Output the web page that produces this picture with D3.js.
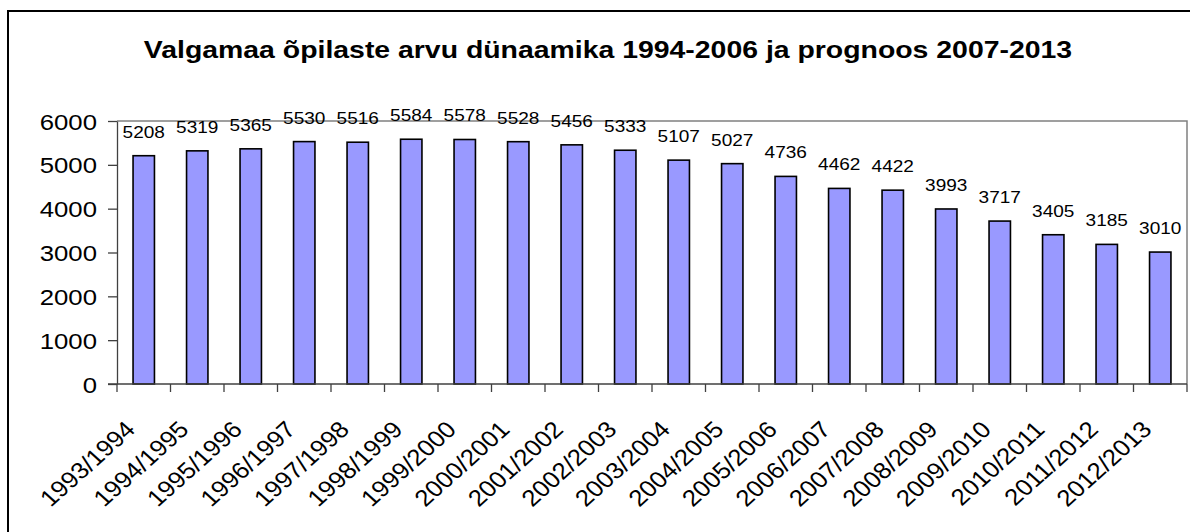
<!DOCTYPE html>
<html>
<head>
<meta charset="utf-8">
<script src="https://cdn.jsdelivr.net/npm/d3@7"></script>
<style>
  body { margin: 0; background: #fff; }
  text { font-family: "Liberation Sans", Arial, sans-serif; fill: #000; }
</style>
</head>
<body>
<div id="chart"></div>
<script>
// õppeaastad
const categories = ['1993/1994', '1994/1995', '1995/1996', '1996/1997', '1997/1998',
  '1998/1999', '1999/2000', '2000/2001', '2001/2002', '2002/2003', '2003/2004',
  '2004/2005', '2005/2006', '2006/2007', '2007/2008', '2008/2009', '2009/2010',
  '2010/2011', '2011/2012', '2012/2013'];

// õpilaste arv
const values = [5208, 5319, 5365, 5530, 5516, 5584, 5578, 5528, 5456, 5333, 5107,
  5027, 4736, 4462, 4422, 3993, 3717, 3405, 3185, 3010];

const yTicks = [0, 1000, 2000, 3000, 4000, 5000, 6000];

const title = 'Valgamaa õpilaste arvu dünaamika 1994-2006 ja prognoos 2007-2013';

const W = 1190, H = 532;
const plot = { left: 117, right: 1187, top: 121, bottom: 384 };
const sx = 1.12; // pilt on horisontaalselt venitatud

const data = categories.map((c, i) => ({ category: c, value: values[i] }));

const svg = d3.select('#chart').append('svg')
  .attr('width', W)
  .attr('height', H);

// välimine raam
svg.append('rect')
  .attr('x', 8).attr('y', 11)
  .attr('width', 1220).attr('height', 600)
  .attr('fill', 'none')
  .attr('stroke', '#000')
  .attr('stroke-width', 2);

svg.append('text')
  .attr('transform', `translate(608,58) scale(1.16,1)`)
  .attr('text-anchor', 'middle')
  .attr('font-size', '24.5px')
  .attr('font-weight', 'bold')
  .text(title);

const x = d3.scaleBand()
  .domain(categories)
  .range([plot.left, plot.right])
  .padding(0);

const y = d3.scaleLinear()
  .domain([0, 6000])
  .range([plot.bottom, plot.top]);

// joonise ala ülemine ja parem serv
svg.append('path')
  .attr('d', `M${plot.left},${y(6000)}H${plot.right}V${plot.bottom}`)
  .attr('fill', 'none')
  .attr('stroke', '#808080')
  .attr('stroke-width', 1.5);

// tulbad
svg.selectAll('rect.bar')
  .data(data)
  .enter()
  .append('rect')
  .classed('bar', true)
  .attr('x', d => x(d.category) + x.bandwidth() * 0.3)
  .attr('y', d => y(d.value))
  .attr('width', x.bandwidth() * 0.4)
  .attr('height', d => y(0) - y(d.value))
  .attr('fill', '#9999FF')
  .attr('stroke', '#000')
  .attr('stroke-width', 1.6);

// väärtused tulpade kohal
svg.selectAll('text.value')
  .data(data)
  .enter()
  .append('text')
  .classed('value', true)
  .attr('transform', d => `translate(${x(d.category) + x.bandwidth() / 2},${y(d.value) - 18}) scale(${sx},1)`)
  .attr('text-anchor', 'middle')
  .attr('font-size', '17px')
  .text(d => d.value);

// y-telg
const yAxis = svg.append('g')
  .attr('transform', `translate(${plot.left},0)`)
  .call(d3.axisLeft(y).tickValues(yTicks).tickFormat(d3.format('d')).tickSize(9).tickSizeOuter(0));
yAxis.select('.domain').attr('stroke', '#404040').attr('stroke-width', 1.3);
yAxis.selectAll('.tick line').attr('stroke', '#404040').attr('stroke-width', 1.3);
yAxis.selectAll('.tick text')
  .attr('x', null).attr('dy', null)
  .attr('transform', `translate(-20,0) scale(${sx},1)`)
  .attr('dominant-baseline', 'central')
  .attr('font-size', '23px')
  .attr('font-family', null)
  .attr('fill', '#000');

// x-telg, jaotised kategooriate vahel
svg.append('line')
  .attr('x1', plot.left - 9).attr('x2', plot.right)
  .attr('y1', y(0)).attr('y2', y(0))
  .attr('stroke', '#404040').attr('stroke-width', 1.3);

const edges = categories.map(c => x(c)).concat([plot.right]);
svg.selectAll('line.xtick')
  .data(edges)
  .enter()
  .append('line')
  .classed('xtick', true)
  .attr('x1', d => d).attr('x2', d => d)
  .attr('y1', y(0)).attr('y2', y(0) + 8)
  .attr('stroke', '#404040').attr('stroke-width', 1.3);

svg.selectAll('text.cat')
  .data(categories)
  .enter()
  .append('text')
  .classed('cat', true)
  .attr('transform', d => `translate(${x(d) + x.bandwidth() / 2 - 7},${y(0) + 47}) scale(${sx},1) rotate(-45)`)
  .attr('text-anchor', 'end')
  .attr('font-size', '23px')
  .text(d => d);
</script>
</body>
</html>
